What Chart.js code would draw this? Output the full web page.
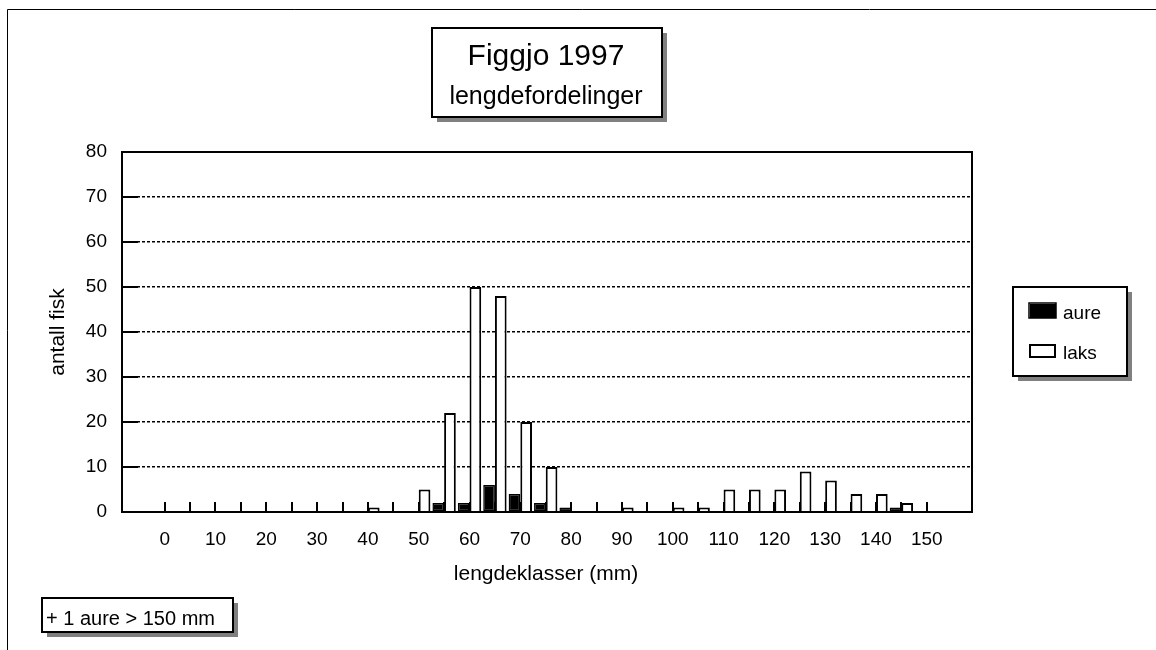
<!DOCTYPE html>
<html><head><meta charset="utf-8">
<script src="https://cdn.jsdelivr.net/npm/chart.js@4.4.1/dist/chart.umd.min.js"></script>
<style>html,body{margin:0;padding:0;background:#fff;}canvas{display:block}</style>
</head><body>
<canvas id="c" width="1156" height="650"></canvas>
<script>
// ---- data ----
const lengthClasses = [0,5,10,15,20,25,30,35,40,45,50,55,60,65,70,75,80,85,90,95,100,105,110,115,120,125,130,135,140,145,150];
const aure = [0,0,0,0,0,0,0,0,0,0,0,2,2,6,4,2,1,0,0,0,0,0,0,0,0,0,0,0,0,1,0];
const laks = [0,0,0,0,0,0,0,0,1,0,5,22,50,48,20,10,0,0,1,0,1,1,5,5,5,9,7,4,4,2,0];
const xTickValues = [0,10,20,30,40,50,60,70,80,90,100,110,120,130,140,150];
const xTickLabels = ['0','10','20','30','40','50','60','70','80','90','100','110','120','130','140','150'];
const seriesNames = ['aure','laks'];
const titleLines = ['Figgjo 1997','lengdefordelinger'];
const yTitle = 'antall fisk';
const xTitle = 'lengdeklasser (mm)';
const footnote = '+ 1 aure > 150 mm';

const FONT = "'Liberation Sans', Arial, sans-serif";
Chart.defaults.font.family = FONT;
Chart.defaults.color = '#000';

function shadowBox(ctx, x, y, w, h) {
  ctx.save();
  ctx.fillStyle = '#808080';
  ctx.fillRect(x + 5, y + 5, w, h);
  ctx.fillStyle = '#fff';
  ctx.fillRect(x, y, w, h);
  ctx.strokeStyle = '#000';
  ctx.lineWidth = 2;
  ctx.strokeRect(x, y, w, h);
  ctx.restore();
}

const decor = {
  id: 'decor',
  afterDraw(chart) {
    const ctx = chart.ctx;
    const a = chart.chartArea;
    const xs = chart.scales.x, ys = chart.scales.y;
    ctx.save();
    // outer frame
    ctx.strokeStyle = '#000'; ctx.lineWidth = 1;
    ctx.beginPath(); ctx.moveTo(7.5, 660); ctx.lineTo(7.5, 9.5); ctx.lineTo(1170, 9.5); ctx.stroke();
    // inner x ticks
    ctx.lineWidth = 2;
    ctx.beginPath();
    lengthClasses.forEach(v => { const px = Math.round(xs.getPixelForValue(v)); ctx.moveTo(px, a.bottom); ctx.lineTo(px, a.bottom - 10); });
    // inner y ticks
    ys.ticks.forEach(t => { const py = Math.round(ys.getPixelForValue(t.value)); ctx.moveTo(a.left, py); ctx.lineTo(a.left + 16, py); });
    ctx.stroke();
    // plot border
    ctx.lineWidth = 2;
    ctx.strokeRect(a.left, a.top, a.right - a.left, a.bottom - a.top);
    // title box
    shadowBox(ctx, 432, 28, 230, 89);
    ctx.fillStyle = '#000'; ctx.textAlign = 'center'; ctx.textBaseline = 'alphabetic';
    ctx.font = '30px ' + FONT; ctx.fillText(titleLines[0], 546, 65);
    ctx.font = '25px ' + FONT; ctx.fillText(titleLines[1], 546, 104);
    // legend
    shadowBox(ctx, 1013, 287, 114, 89);
    const ds = chart.data.datasets;
    ctx.font = '19px ' + FONT; ctx.textAlign = 'left';
    ctx.fillStyle = ds[0].backgroundColor; ctx.fillRect(1030, 304, 26, 14);
    ctx.strokeStyle = '#000'; ctx.lineWidth = 1.5; ctx.strokeRect(1029, 303, 27, 15);
    ctx.fillStyle = '#000'; ctx.fillText(ds[0].label, 1063, 319);
    ctx.fillStyle = ds[1].backgroundColor; ctx.fillRect(1030, 345, 25, 12);
    ctx.lineWidth = 2; ctx.strokeRect(1030, 345, 25, 12);
    ctx.fillStyle = '#000'; ctx.fillText(ds[1].label, 1063, 359);
    // footnote
    shadowBox(ctx, 42, 598, 191, 34);
    ctx.font = '20px ' + FONT; ctx.fillStyle = '#000'; ctx.fillText(footnote, 46, 625);
    // axis titles
    ctx.font = '21px ' + FONT; ctx.textAlign = 'center';
    ctx.fillText(xTitle, 546, 580);
    ctx.translate(64, (a.top + a.bottom) / 2); ctx.rotate(-Math.PI / 2);
    ctx.fillText(yTitle, 0, 0);
    ctx.restore();
  }
};

new Chart(document.getElementById('c'), {
  type: 'bar',
  data: {
    datasets: [
      { label: seriesNames[0], data: lengthClasses.map((x, i) => ({ x: x, y: aure[i] })),
        backgroundColor: '#000', borderColor: '#000', borderWidth: 1.5, borderSkipped: false },
      { label: seriesNames[1], data: lengthClasses.map((x, i) => ({ x: x, y: laks[i] })),
        backgroundColor: '#fff', borderColor: '#000', borderWidth: 2, borderSkipped: 'bottom' }
    ]
  },
  options: {
    responsive: false, animation: false,
    categoryPercentage: 0.92, barPercentage: 1.0,
    layout: { padding: { left: 0, top: 152, right: 184, bottom: 0 } },
    plugins: { legend: { display: false }, title: { display: false }, tooltip: { enabled: false } },
    scales: {
      x: {
        type: 'linear', min: -8.4, max: 158.9, offset: false,
        afterFit: s => { s.height = 138; },
        afterBuildTicks: s => { s.ticks = xTickValues.map(v => ({ value: v })); },
        ticks: { font: { size: 19 }, padding: 16, maxRotation: 0, autoSkip: false,
                 callback: (v) => xTickLabels[xTickValues.indexOf(v)] },
        grid: { display: false, drawTicks: false },
        border: { display: false }
      },
      y: {
        min: 0, max: 80,
        afterFit: s => { s.width = 122; },
        ticks: { stepSize: 10, font: { size: 19 }, padding: 15 },
        grid: { color: '#000', lineWidth: 1.5, drawTicks: false },
        border: { display: false, dash: [3, 2] }
      }
    }
  },
  plugins: [decor]
});
</script>
</body></html>
